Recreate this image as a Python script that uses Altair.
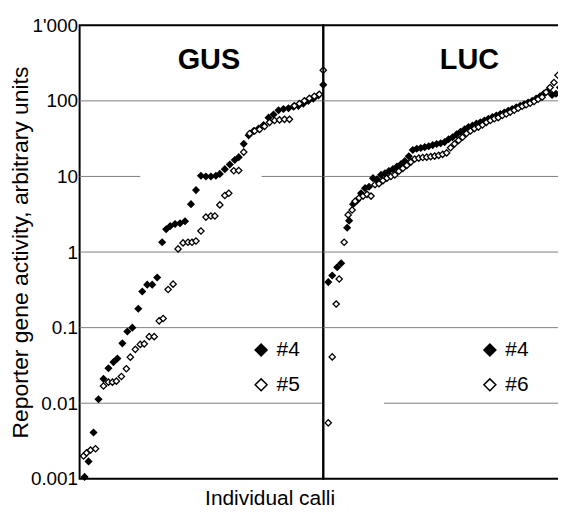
import altair as alt
import pandas as pd

panels = ["GUS", "LUC"]
x_title = "Individual calli"
y_title = "Reporter gene activity, arbitrary units"
y_ticks = [0.001, 0.01, 0.1, 1, 10, 100, 1000]
y_tick_labels = ["0.001", "0.01", "0.1", "1", "10", "100", "1'000"]

gus_series = ["#4", "#5"]
luc_series = ["#4", "#6"]

# GUS, line #4 (filled)
gus4_x = [1.0, 1.8, 2.8, 3.8, 4.8, 5.8, 6.8, 7.6, 8.6, 9.6, 10.6, 11.8, 12.6, 13.6, 14.6,
          15.6, 16.6, 17.4, 18.2, 19.2, 20.2, 21.2, 22.4, 23.4, 24.4, 25.4, 26.4, 27.4, 28.2,
          29.2, 30.2, 31.2, 32.0, 33.0, 34.0, 35.0, 36.0, 37.0, 38.0, 39.0, 40.0, 41.0, 42.0,
          43.0, 44.0, 45.0, 46.0, 47.0, 48.0, 49.0]
gus4_y = [0.00106, 0.0017, 0.0041, 0.0113, 0.021, 0.029, 0.035, 0.039, 0.062, 0.089, 0.10,
          0.178, 0.30, 0.37, 0.37, 0.46, 1.35, 2.0, 2.2, 2.35, 2.4, 2.55, 4.3, 6.6, 10.2, 10.0,
          10.0, 10.2, 10.8, 12.5, 14.4, 16.5, 18, 27, 35, 40, 43, 48, 60, 66, 75, 78, 80, 84,
          86, 92, 100, 107, 118, 163]

# GUS, line #5 (open)
gus5_x = [0.8, 1.4, 2.2, 3.2, 4.8, 5.8, 6.6, 7.4, 8.4, 9.4, 10.2, 11.2, 12.2, 13.0, 14.0,
          15.0, 16.0, 16.8, 17.8, 18.8, 19.8, 20.8, 21.8, 22.6, 23.4, 24.4, 25.4, 26.4, 27.2,
          28.2, 29.2, 30.0, 31.0, 32.0, 33.0, 34.2, 35.2, 36.2, 37.2, 38.2, 39.2, 40.2, 41.2,
          42.2, 43.2, 44.2, 45.2, 46.2, 47.2, 48.2, 49.0]
gus5_y = [0.0020, 0.0022, 0.0024, 0.0025, 0.0169, 0.019, 0.019, 0.0196, 0.0226, 0.0286,
          0.0407, 0.0516, 0.060, 0.061, 0.076, 0.076, 0.123, 0.132, 0.32, 0.376, 1.1, 1.32,
          1.35, 1.35, 1.4, 1.9, 2.9, 3.0, 3.0, 4.2, 5.6, 6.0, 11.9, 12.0, 21, 37, 40, 42, 46,
          52, 55, 56, 57, 57, 86, 92, 100, 108, 115, 122, 255]

# LUC, line #4 (filled)
luc4_x = [50.0, 50.8, 51.8, 52.6, 53.8, 54.2, 55.0, 55.8, 56.6, 57.4, 58.2, 59.0, 59.8, 60.6,
          61.4, 62.2, 63.0, 63.8, 64.6, 65.4, 66.2, 67.0, 67.8, 68.6, 69.4, 70.2, 71.0, 71.8,
          72.6, 73.4, 74.2, 75.0, 75.8, 76.6, 77.4, 78.2, 79.0, 79.8, 80.6, 81.4, 82.2, 83.0,
          83.8, 84.6, 85.4, 86.2, 87.0, 87.8, 88.6, 89.4, 90.2, 91.0, 91.8, 92.6, 93.4, 94.2,
          95.0, 95.8, 96.6, 97.4]
luc4_y = [0.40, 0.49, 0.63, 0.71, 2.1, 2.6, 4.3, 4.8, 6.0, 7.0, 7.3, 9.5, 9.2, 10.5, 11, 11.8,
          12.5, 13.5, 14.5, 16.0, 18.5, 22.4, 23.3, 23.8, 24.4, 25.1, 26.0, 26.9, 27.5, 28.5,
          31, 33, 36, 39, 42, 45, 47, 50, 52, 55, 58, 61, 64, 67, 70, 74, 78, 82, 86, 90, 95,
          100, 107, 115, 125, 135, 120, 124, 150, 168]

# LUC, line #6 (open)
luc6_x = [50.0, 50.8, 51.6, 52.2, 53.2, 54.0, 54.8, 55.4, 56.2, 57.0, 57.8, 58.6, 59.4, 60.2,
          61.0, 61.8, 62.6, 63.4, 64.2, 65.0, 65.8, 66.6, 67.4, 68.2, 69.0, 69.8, 70.6, 71.4,
          72.2, 73.0, 73.8, 74.6, 75.4, 76.2, 77.0, 77.8, 78.6, 79.4, 80.2, 81.0, 81.8, 82.6,
          83.4, 84.2, 85.0, 85.8, 86.6, 87.4, 88.2, 89.0, 89.8, 90.6, 91.4, 92.2, 93.0, 93.8,
          94.6, 95.4, 96.2, 97.0, 97.6]
luc6_y = [0.0055, 0.041, 0.205, 0.44, 1.35, 3.1, 3.6, 4.7, 5.2, 5.5, 5.8, 5.5, 7.8, 8.0, 8.8,
          9.5, 10.0, 10.5, 11.7, 12.8, 14.0, 15.5, 17.0, 17.5, 17.8, 18.0, 18.3, 18.6, 19.0,
          19.6, 20.5, 24, 27, 30, 33, 37, 40, 43, 45, 48, 52, 55, 58, 60, 64, 67, 71, 75, 80,
          85, 89, 93, 98, 105, 112, 130, 150, 175, 218, 230, 380]

# horizontal grid segments (value, from, to) in callus units
gus_grid_y = [100, 10, 10, 1, 0.1, 0.01]
gus_grid_from = [0, 0, 36.6, 0, 0, 0]
gus_grid_to = [49, 12.2, 49, 49, 49, 49]
luc_grid_y = [100, 10, 1, 0.1, 0.01]
luc_grid_from = [49, 49, 49, 49, 61.2]
luc_grid_to = [97.8, 97.8, 97.8, 97.8, 97.8]

FONT = "Liberation Sans"

label_expr = " : ".join(
    f'abs(datum.value - {v}) < {v} * 1e-6 ? "{l}"' for v, l in zip(y_ticks, y_tick_labels)
) + ' : ""'


def make_df(xs1, ys1, xs2, ys2, series):
    return pd.DataFrame({
        "x": xs1 + xs2,
        "y": ys1 + ys2,
        "series": [series[0]] * len(xs1) + [series[1]] * len(xs2),
    })


def panel(df, grid, name, series, domain, width, show_axes, legend_x, legend_y, name_x):
    xs = alt.Scale(domain=domain, nice=False, zero=False)
    ys = alt.Scale(type="log", domain=[0.001, 1000], nice=False)
    if show_axes:
        xaxis = alt.Axis(title=x_title, labels=False, ticks=False, domain=False, grid=False,
                         titleFontSize=21, titleFontWeight="normal", titleColor="black",
                         titleFont=FONT, titleX=191, titleY=20, titleBaseline="middle",
                         titleAlign="center")
        yaxis = alt.Axis(values=y_ticks, labelExpr=label_expr, ticks=False, domain=False,
                         grid=False, labelFontSize=19, labelColor="black", labelFont=FONT,
                         labelPadding=2, title=y_title, titleFontSize=23,
                         titleFontWeight="normal", titleColor="black", titleFont=FONT,
                         titleX=-59, titleBaseline="middle")
    else:
        xaxis = None
        yaxis = None
    grid_layer = alt.Chart(grid).mark_rule(color="#808080", strokeWidth=1).encode(
        x=alt.X("x0:Q", scale=xs, axis=xaxis),
        x2="x1:Q",
        y=alt.Y("y:Q", scale=ys, axis=yaxis),
    )
    points = alt.Chart(df).mark_point(
        shape="diamond", filled=True, size=40, stroke="black", strokeWidth=1.3,
        opacity=1, strokeOpacity=1,
    ).encode(
        x=alt.X("x:Q", scale=xs, axis=xaxis),
        y=alt.Y("y:Q", scale=ys, axis=yaxis),
        fill=alt.Fill(
            "series:N",
            scale=alt.Scale(domain=series, range=["#000000", "#ffffff"]),
            legend=alt.Legend(
                title=None, orient="none", legendX=legend_x, legendY=legend_y,
                symbolType="diamond", symbolSize=144, symbolStrokeColor="black",
                symbolStrokeWidth=1.5, symbolOpacity=1, labelFontSize=21,
                labelFont=FONT, labelColor="black", labelOffset=5, rowPadding=13,
                padding=0,
            ),
        ),
    )
    label = alt.Chart(pd.DataFrame({"name": [name]})).mark_text(
        fontSize=29, fontWeight="bold", color="black", font=FONT
    ).encode(text="name:N", x=alt.value(name_x), y=alt.value(35))
    return alt.layer(grid_layer, points, label).properties(width=width, height=456)


gus_df = make_df(gus4_x, gus4_y, gus5_x, gus5_y, gus_series)
luc_df = make_df(luc4_x, luc4_y, luc6_x, luc6_y, luc_series)
gus_grid = pd.DataFrame({"y": gus_grid_y, "x0": gus_grid_from, "x1": gus_grid_to})
luc_grid = pd.DataFrame({"y": luc_grid_y, "x0": luc_grid_from, "x1": luc_grid_to})

left = panel(gus_df, gus_grid, panels[0], gus_series, [0, 49], 245, True, 172, 316, 130)
right = panel(luc_df, luc_grid, panels[1], luc_series, [49, 97.8], 244, False, 157, 316, 147)

chart = alt.hconcat(left, right, spacing=0, bounds="flush").resolve_scale(
    x="independent", y="independent", fill="independent"
).resolve_legend(fill="independent").properties(
    padding={"left": 0, "top": 6, "right": -14, "bottom": 0}
).configure(font=FONT).configure_view(stroke="black", strokeWidth=2)

chart.save("out.html", embed_options={"renderer": "svg", "actions": False})
